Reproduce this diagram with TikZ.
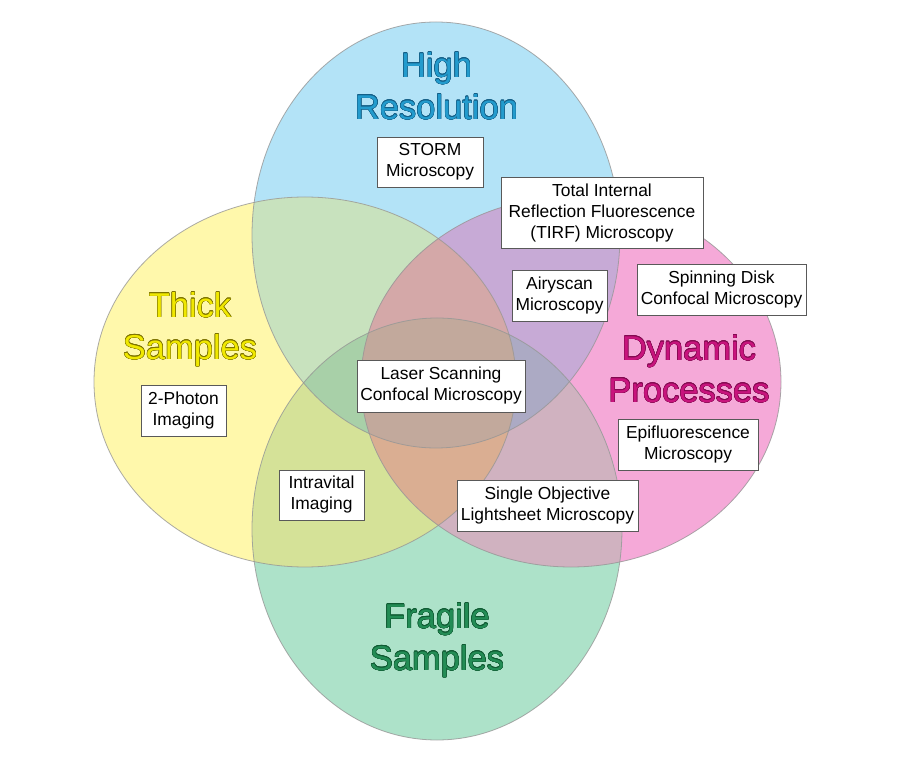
\documentclass[tikz,border=0pt]{standalone}
\usepackage{fontspec}
\setmainfont{Liberation Sans}
\usepackage{contour}
\contourlength{0.4pt}
\definecolor{cB}{RGB}{179,227,247}
\definecolor{cY}{RGB}{255,248,171}
\definecolor{cP}{RGB}{245,169,216}
\definecolor{cG}{RGB}{173,226,201}
\definecolor{cBY}{RGB}{200,226,190}
\definecolor{cBP}{RGB}{199,170,214}
\definecolor{cYG}{RGB}{213,226,152}
\definecolor{cPG}{RGB}{208,178,192}
\definecolor{cYP}{RGB}{225,190,170}
\definecolor{cBG}{RGB}{160,210,215}
\definecolor{cBYP}{RGB}{212,168,168}
\definecolor{cBYG}{RGB}{168,208,168}
\definecolor{cBPG}{RGB}{172,170,196}
\definecolor{cYPG}{RGB}{218,174,146}
\definecolor{cBYPG}{RGB}{194,169,156}
\definecolor{outl}{RGB}{150,150,150}
\definecolor{hrfill}{RGB}{35,155,205}
\definecolor{hrline}{RGB}{20,95,135}
\definecolor{tsfill}{RGB}{240,232,0}
\definecolor{tsline}{RGB}{125,115,0}
\definecolor{dpfill}{RGB}{200,20,125}
\definecolor{dpline}{RGB}{130,10,80}
\definecolor{fsfill}{RGB}{35,140,85}
\definecolor{fsline}{RGB}{15,90,50}
\newcommand\clipBl{\clip (436,235) ellipse [x radius=184pt, y radius=213pt];}
\newcommand\clipYe{\clip (305,382) ellipse [x radius=211pt, y radius=185pt];}
\newcommand\clipPi{\clip (571,382) ellipse [x radius=210pt, y radius=185pt];}
\newcommand\clipGr{\clip (437,529) ellipse [x radius=185pt, y radius=211pt];}
\newcommand\fillBl[1]{\path[#1] (436,235) ellipse [x radius=184pt, y radius=213pt];}
\newcommand\fillYe[1]{\path[#1] (305,382) ellipse [x radius=211pt, y radius=185pt];}
\newcommand\fillPi[1]{\path[#1] (571,382) ellipse [x radius=210pt, y radius=185pt];}
\newcommand\fillGr[1]{\path[#1] (437,529) ellipse [x radius=185pt, y radius=211pt];}
\begin{document}
\begin{tikzpicture}[x=1pt,y=-1pt,
  ring/.style={draw=outl, draw opacity=0.8, line width=0.8pt},
  mbox/.style={draw=black!65, line width=0.8pt, fill=white, text=black, align=center, inner sep=0pt, font=\fontsize{17.4}{21}\selectfont},
  title/.style={anchor=north, inner sep=0pt, align=center, font=\fontsize{34.5}{42}\selectfont}]
\useasboundingbox (0,0) rectangle (900,783);
\fill[white] (0,0) rectangle (900,783);
% single regions
\fillBl{fill=cB}
\fillYe{fill=cY}
\fillPi{fill=cP}
\fillGr{fill=cG}
% pair regions
\begin{scope}\clipBl\fillYe{fill=cBY}\end{scope}
\begin{scope}\clipBl\fillPi{fill=cBP}\end{scope}
\begin{scope}\clipBl\fillGr{fill=cBG}\end{scope}
\begin{scope}\clipYe\fillPi{fill=cYP}\end{scope}
\begin{scope}\clipYe\fillGr{fill=cYG}\end{scope}
\begin{scope}\clipPi\fillGr{fill=cPG}\end{scope}
% triple regions
\begin{scope}\clipBl\clipYe\fillPi{fill=cBYP}\end{scope}
\begin{scope}\clipBl\clipYe\fillGr{fill=cBYG}\end{scope}
\begin{scope}\clipBl\clipPi\fillGr{fill=cBPG}\end{scope}
\begin{scope}\clipYe\clipPi\fillGr{fill=cYPG}\end{scope}
% all four
\begin{scope}\clipBl\clipYe\clipPi\fillGr{fill=cBYPG}\end{scope}
% outlines
\fillBl{ring}
\fillYe{ring}
\fillPi{ring}
\fillGr{ring}
% titles
\node[title, text=hrfill] (hr) at (436.5,52) {\contour{hrline}{High}\\\contour{hrline}{Resolution}};
\node[title, text=tsfill] (ts) at (190,292) {\contour{tsline}{Thick}\\\contour{tsline}{Samples}};
\node[title, text=dpfill] (dp) at (689,335) {\contour{dpline}{Dynamic}\\\contour{dpline}{Processes}};
\node[title, text=fsfill] (fs) at (437,603) {\contour{fsline}{Fragile}\\\contour{fsline}{Samples}};
% boxes
\node[mbox, minimum width=106pt, minimum height=50pt] (storm) at (430,162) {STORM\\Microscopy};
\node[mbox, minimum width=202pt, minimum height=71pt] (tirf) at (602,213) {Total Internal\\Reflection Fluorescence\\(TIRF) Microscopy};
\node[mbox, minimum width=95pt, minimum height=51pt] (airy) at (559.5,295.5) {Airyscan\\Microscopy};
\node[mbox, minimum width=169pt, minimum height=51pt] (spin) at (721.5,289.5) {Spinning Disk\\Confocal Microscopy};
\node[mbox, minimum width=85pt, minimum height=51pt] (photon) at (183.5,410.5) {2-Photon\\Imaging};
\node[mbox, minimum width=168pt, minimum height=52pt] (laser) at (441,386) {Laser Scanning\\Confocal Microscopy};
\node[mbox, minimum width=140pt, minimum height=51pt] (epi) at (688,444.5) {Epifluorescence\\Microscopy};
\node[mbox, minimum width=85pt, minimum height=50pt] (intra) at (321.5,495) {Intravital\\Imaging};
\node[mbox, minimum width=181pt, minimum height=51pt] (single) at (547.5,505.5) {Single Objective\\Lightsheet Microscopy};
\end{tikzpicture}
\end{document}
